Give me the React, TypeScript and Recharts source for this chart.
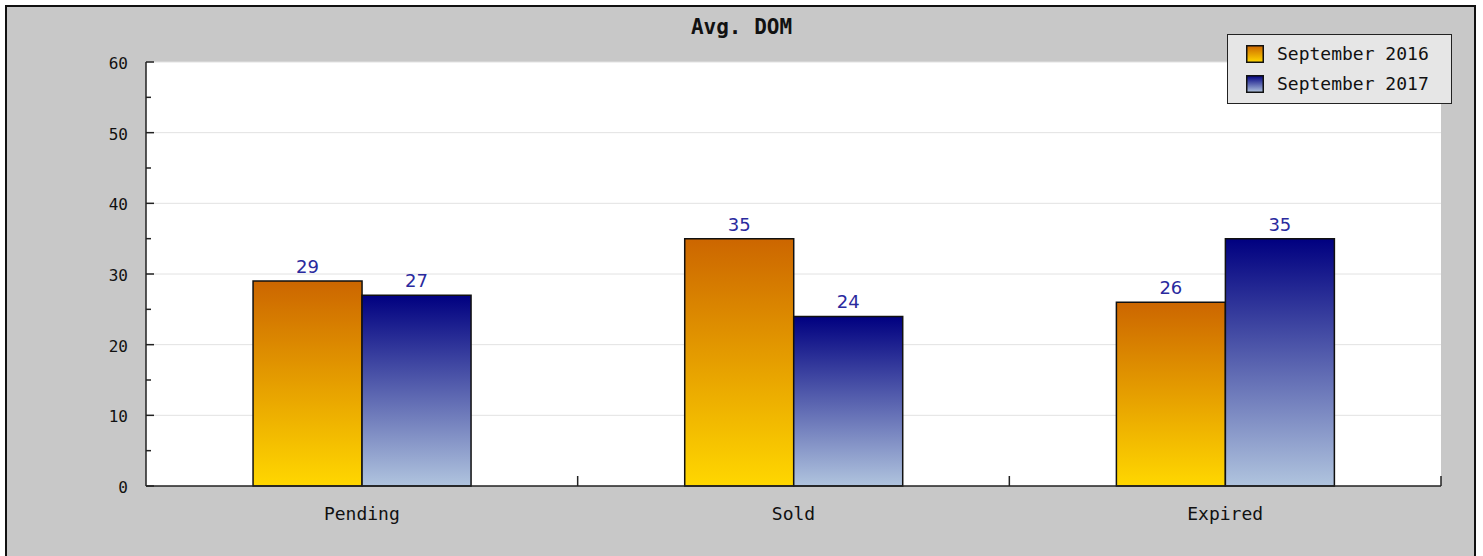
import { BarChart, Bar, XAxis, YAxis, CartesianGrid, LabelList, Legend } from 'recharts';

const categories = ['Pending', 'Sold', 'Expired'];
const sept2016 = [29, 35, 26];
const sept2017 = [27, 24, 35];
const yTicks = [0, 5, 10, 15, 20, 25, 30, 35, 40, 45, 50, 55, 60];
const gridValues = [10, 20, 30, 40, 50, 60];

const data = categories.map((name, i) => ({ name, s2016: sept2016[i], s2017: sept2017[i] }));

const W = 1483;
const H = 556;
const PLOT_LEFT = 146;
const PLOT_RIGHT = 1441;
const PLOT_TOP = 62;
const PLOT_BOTTOM = 486;
const AXIS = '#222';
const MONO = '"DejaVu Sans Mono", monospace';

const YTick = (props: any) => {
  const { x, y, payload } = props;
  const v = payload.value;
  const major = v % 10 === 0;
  const ax = x + 18;
  return (
    <g>
      <line x1={ax} x2={ax + (major ? 8 : 5)} y1={y} y2={y} stroke={AXIS} strokeWidth={1.5} />
      {major && (
        <text x={x} y={y} dy={7} textAnchor="end" fontFamily={MONO} fontSize={16} fill="#111">
          {v}
        </text>
      )}
    </g>
  );
};

const XTick = (props: any) => {
  const { x, y, payload } = props;
  const band = (PLOT_RIGHT - PLOT_LEFT) / categories.length;
  const bx = x + band / 2;
  return (
    <g>
      <line x1={bx} x2={bx} y1={PLOT_BOTTOM} y2={PLOT_BOTTOM - 10} stroke={AXIS} strokeWidth={1.5} />
      <text x={x} y={y} dy={6} textAnchor="middle" fontFamily={MONO} fontSize={18} fill="#111">
        {payload.value}
      </text>
    </g>
  );
};

const legendItems = [
  { label: 'September 2016', fill: 'url(#gOrange)' },
  { label: 'September 2017', fill: 'url(#gBlue)' },
];

const LegendBox = () => (
  <div
    style={{
      width: 225,
      height: 70,
      boxSizing: 'border-box',
      border: '1.5px solid #222',
      background: '#e6e6e6',
      paddingTop: 4,
      textAlign: 'left',
    }}
  >
    {legendItems.map((item) => (
      <div key={item.label} style={{ display: 'flex', alignItems: 'center', height: 30 }}>
        <svg width={18} height={18} style={{ marginLeft: 18, marginRight: 13 }}>
          <rect x={0.75} y={0.75} width={16.5} height={16.5} fill={item.fill} stroke="#111" strokeWidth={1.5} />
        </svg>
        <span style={{ fontFamily: MONO, fontSize: 18, color: '#111', lineHeight: '18px' }}>{item.label}</span>
      </div>
    ))}
  </div>
);

export default function App() {
  return (
    <div style={{ position: 'absolute', left: 0, top: 0, width: W, height: H, background: '#fff', overflow: 'hidden' }}>
      <div
        style={{
          position: 'absolute',
          left: 5,
          top: 5,
          width: 1471,
          height: 600,
          boxSizing: 'border-box',
          border: '2px solid #111',
          background: '#c8c8c8',
        }}
      />
      <div
        style={{
          position: 'absolute',
          left: 0,
          width: W,
          top: 15,
          textAlign: 'center',
          fontFamily: MONO,
          fontWeight: 'bold',
          fontSize: 21,
          color: '#111',
        }}
      >
        Avg. DOM
      </div>
      <div style={{ position: 'absolute', left: 0, top: 0 }}>
        <BarChart
          width={W}
          height={H}
          data={data}
          margin={{ top: PLOT_TOP, right: W - PLOT_RIGHT, left: 0, bottom: 0 }}
          barCategoryGap="24.8%"
          barGap={0}
        >
          <defs>
            <linearGradient id="gOrange" x1="0" y1="0" x2="0" y2="1">
              <stop offset="0%" stopColor="#cc6600" />
              <stop offset="100%" stopColor="#ffd700" />
            </linearGradient>
            <linearGradient id="gBlue" x1="0" y1="0" x2="0" y2="1">
              <stop offset="0%" stopColor="#000080" />
              <stop offset="100%" stopColor="#b0c4de" />
            </linearGradient>
          </defs>
          <CartesianGrid vertical={false} horizontalValues={gridValues} stroke="#e2e2e2" fill="#fff" />
          <XAxis
            dataKey="name"
            height={H - PLOT_BOTTOM}
            tickSize={0}
            tickMargin={28}
            tick={<XTick />}
            axisLine={{ stroke: AXIS, strokeWidth: 1.5 }}
          />
          <YAxis
            width={PLOT_LEFT}
            domain={[0, 60]}
            ticks={yTicks}
            interval={0}
            tickSize={0}
            tickMargin={18}
            tickLine={false}
            tick={<YTick />}
            axisLine={{ stroke: AXIS, strokeWidth: 1.5 }}
          />
          <Legend
            layout="horizontal"
            verticalAlign="middle"
            align="center"
            content={<LegendBox />}
            wrapperStyle={{ left: 1227, top: 34, width: 225, height: 70, right: 'auto', bottom: 'auto' }}
          />
          <Bar dataKey="s2016" name="September 2016" fill="url(#gOrange)" stroke="#111" strokeWidth={1.5} isAnimationActive={false}>
            <LabelList dataKey="s2016" position="top" offset={8} fill="#2a2a9e" fontFamily="DejaVu Sans" fontSize={18} />
          </Bar>
          <Bar dataKey="s2017" name="September 2017" fill="url(#gBlue)" stroke="#111" strokeWidth={1.5} isAnimationActive={false}>
            <LabelList dataKey="s2017" position="top" offset={8} fill="#2a2a9e" fontFamily="DejaVu Sans" fontSize={18} />
          </Bar>
        </BarChart>
      </div>
    </div>
  );
}
